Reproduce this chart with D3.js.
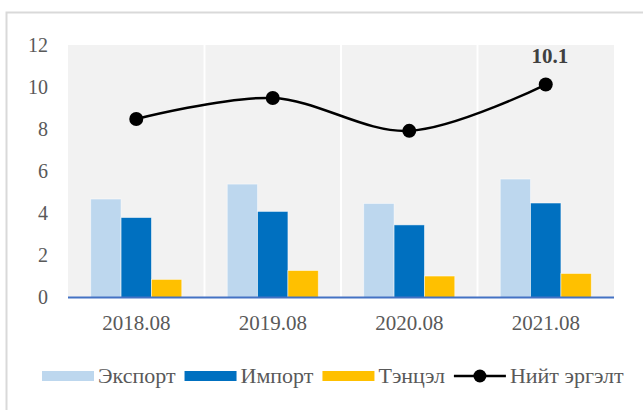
<!DOCTYPE html>
<html>
<head>
<meta charset="utf-8">
<script src="https://cdn.jsdelivr.net/npm/d3@7"></script>
<style>
  html, body { margin: 0; padding: 0; background: #fff; }
  svg { display: block; }
  text { font-family: "Liberation Serif", "Times New Roman", serif; }
</style>
</head>
<body>
<svg id="chart" width="643" height="410"></svg>
<script>
const categories = ["2018.08", "2019.08", "2020.08", "2021.08"];
const exportVals = [4.68, 5.39, 4.47, 5.63];
const importVals = [3.80, 4.09, 3.45, 4.49];
const balanceVals = [0.86, 1.28, 1.02, 1.14];
const totalVals = [8.48, 9.48, 7.92, 10.12];
const yTicks = [0, 2, 4, 6, 8, 10, 12];
const seriesNames = ["Экспорт", "Импорт", "Тэнцэл", "Нийт эргэлт"];
const barSeries = [exportVals, importVals, balanceVals];
const colors = ["#bdd7ee", "#0070c0", "#ffc000", "#000000"];

const svg = d3.select("#chart");

// outer frame
svg.append("rect").attr("x", 6.5).attr("y", 12.5).attr("width", 660).attr("height", 420)
  .attr("fill", "#fff").attr("stroke", "#d9d9d9").attr("stroke-width", 2);

const L = 68, R = 614, T = 45, B = 297.5;
const x = d3.scaleBand().domain(categories).range([L, R]).padding(0);
const y = d3.scaleLinear().domain([0, 12]).range([B, T]);
const bw = x.bandwidth();
const gw = bw * 0.667;
const sub = d3.scaleBand().domain(d3.range(barSeries.length)).range([(bw - gw) / 2, (bw + gw) / 2]).padding(0);

// plot background
svg.append("rect").attr("x", L).attr("y", T).attr("width", R - L).attr("height", B - T).attr("fill", "#f2f2f2");

// vertical separators
svg.append("g").selectAll("line").data(categories.slice(1)).join("line")
  .attr("x1", d => x(d)).attr("x2", d => x(d))
  .attr("y1", T).attr("y2", B)
  .attr("stroke", "#ffffff").attr("stroke-width", 2);

// bars
barSeries.forEach((vals, si) => {
  svg.append("g").selectAll("rect").data(vals).join("rect")
    .attr("x", (d, i) => x(categories[i]) + sub(si))
    .attr("width", sub.bandwidth())
    .attr("y", d => y(d))
    .attr("height", d => B - y(d))
    .attr("fill", colors[si])
    .attr("stroke", "rgba(255,255,255,0.6)")
    .attr("stroke-width", 0.8);
});

// x axis line
svg.append("line").attr("x1", L).attr("x2", R).attr("y1", B).attr("y2", B)
  .attr("stroke", "#4472c4").attr("stroke-width", 2);

// y axis
const ya = svg.append("g").attr("transform", `translate(${L},0)`)
  .call(d3.axisLeft(y).tickValues(yTicks).tickSize(0).tickPadding(20).tickFormat(d3.format("d")));
ya.select(".domain").remove();
ya.selectAll("text").attr("font-size", 20).attr("fill", "#595959")
  .style("font-family", "'Liberation Serif', serif");

// x axis labels
const xa = svg.append("g").attr("transform", `translate(0,${B})`)
  .call(d3.axisBottom(x).tickSize(0).tickPadding(18));
xa.select(".domain").remove();
xa.selectAll("text").attr("font-size", 21).attr("fill", "#595959")
  .style("font-family", "'Liberation Serif', serif");

// total line
const pts = totalVals.map((v, i) => [x(categories[i]) + bw / 2, y(v)]);
svg.append("path").datum(pts)
  .attr("d", d3.line().curve(d3.curveCatmullRom.alpha(0.5)))
  .attr("fill", "none").attr("stroke", "#000").attr("stroke-width", 2.5);
svg.append("g").selectAll("circle").data(pts).join("circle")
  .attr("cx", d => d[0]).attr("cy", d => d[1]).attr("r", 7).attr("fill", "#000");

// data label on last point
const li = totalVals.length - 1;
svg.append("text")
  .attr("x", pts[li][0] + 4).attr("y", pts[li][1] - 22)
  .attr("text-anchor", "middle").attr("font-size", 21).attr("font-weight", "bold")
  .attr("fill", "#404040").text(d3.format(".1f")(totalVals[li]));

// legend
const lg = svg.append("g");
let lx = 42;
const ly = 376;
seriesNames.forEach((name, i) => {
  if (i < 3) {
    lg.append("rect").attr("x", lx).attr("y", ly - 5).attr("width", 52).attr("height", 10).attr("fill", colors[i]);
  } else {
    lg.append("line").attr("x1", lx).attr("x2", lx + 52).attr("y1", ly).attr("y2", ly)
      .attr("stroke", "#000").attr("stroke-width", 2.5);
    lg.append("circle").attr("cx", lx + 26).attr("cy", ly).attr("r", 6.5).attr("fill", "#000");
  }
  const t = lg.append("text").attr("x", lx + 56).attr("y", ly + 7)
    .attr("font-size", 22).attr("fill", "#595959").text(name);
  lx = lx + 56 + t.node().getComputedTextLength() + 9;
});
</script>
</body>
</html>
